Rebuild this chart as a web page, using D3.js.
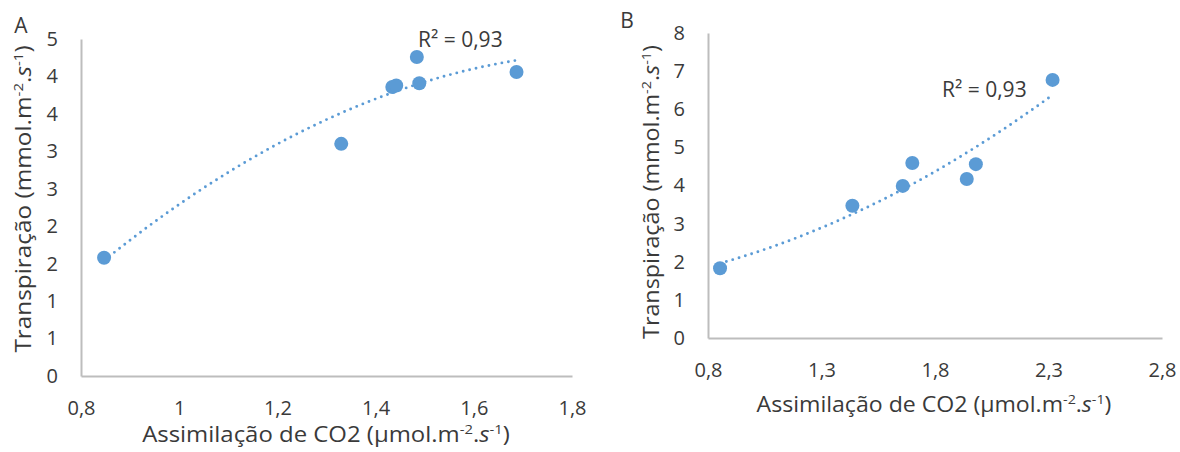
<!DOCTYPE html>
<html>
<head>
<meta charset="utf-8">
<script src="https://cdn.jsdelivr.net/npm/d3@7"></script>
<style>
  body { margin: 0; background: #fff; }
  svg { display: block; }
  text { font-family: "Open Sans", "Noto Sans", sans-serif; fill: #3a3a3a; }
</style>
</head>
<body>
<svg id="chart" width="1180" height="452"></svg>
<script>
// Panel A: CO2 assimilation vs transpiration
const assimA  = [0.847, 1.33, 1.434, 1.442, 1.484, 1.489, 1.687];
const transpA = [1.58, 3.10, 3.86, 3.88, 4.26, 3.91, 4.06];
// Panel B
const assimB  = [0.853, 1.436, 1.658, 1.70, 1.94, 1.98, 2.318];
const transpB = [1.83, 3.47, 3.99, 4.59, 4.17, 4.56, 6.77];

// Tick values and their printed labels
const xTicksA = [0.8, 1.0, 1.2, 1.4, 1.6, 1.8];
const xTickLabelsA = ["0,8", "1", "1,2", "1,4", "1,6", "1,8"];
const yTicksA = [0, 0.5, 1, 1.5, 2, 2.5, 3, 3.5, 4, 4.5];
const yTickLabelsA = ["0", "1", "1", "2", "2", "3", "3", "4", "4", "5"];
const xTicksB = [0.8, 1.3, 1.8, 2.3, 2.8];
const xTickLabelsB = ["0,8", "1,3", "1,8", "2,3", "2,8"];
const yTicksB = [0, 1, 2, 3, 4, 5, 6, 7, 8];
const yTickLabelsB = ["0", "1", "2", "3", "4", "5", "6", "7", "8"];

const panelNames = ["A", "B"];
const r2Labels = ["R² = 0,93", "R² = 0,93"];

const svg = d3.select("#chart");
const BLUE = "#5b9bd5";
const AXIS = "#bdbdbd";

// Least-squares quadratic fit y = a + b x + c x^2
function quadFit(xs, ys) {
  let s = [0, 0, 0, 0, 0], t = [0, 0, 0];
  xs.forEach((x, i) => {
    for (let k = 0; k <= 4; k++) s[k] += Math.pow(x, k);
    for (let k = 0; k <= 2; k++) t[k] += ys[i] * Math.pow(x, k);
  });
  const M = [[s[0], s[1], s[2], t[0]], [s[1], s[2], s[3], t[1]], [s[2], s[3], s[4], t[2]]];
  for (let i = 0; i < 3; i++) {
    for (let j = i + 1; j < 3; j++) {
      const f = M[j][i] / M[i][i];
      for (let k = i; k < 4; k++) M[j][k] -= f * M[i][k];
    }
  }
  const c = M[2][3] / M[2][2];
  const b = (M[1][3] - M[1][2] * c) / M[1][1];
  const a = (M[0][3] - M[0][1] * b - M[0][2] * c) / M[0][0];
  return x => a + b * x + c * x * x;
}

// "(…m⁻².s⁻¹)" unit suffix with raised exponents
function addUnits(text, prefix, mainSize) {
  const sup = Math.round(mainSize * 0.62);
  const up = -mainSize * 0.38;
  text.append("tspan").text(prefix);
  text.append("tspan").attr("font-size", sup).attr("dy", up).text("-2");
  text.append("tspan").attr("dy", -up).text(".");
  text.append("tspan").attr("font-style", "italic").text("s");
  text.append("tspan").attr("font-size", sup).attr("dy", up).text("-1");
  text.append("tspan").attr("dy", -up).text(")");
}

const panels = [
  { xs: assimA, ys: transpA, xTicks: xTicksA, xLabels: xTickLabelsA, yTicks: yTicksA, yLabels: yTickLabelsA,
    xDom: [0.8, 1.8], yDom: [0, 4.5], left: 81, right: 572, top: 39, bottom: 376,
    name: panelNames[0], nameXY: [21, 33], r2: r2Labels[0], r2XY: [418, 47],
    xTitleXY: [326, 442], xStretch: 1.14, yTitleXY: [31, 199], yStretch: 1.16 },
  { xs: assimB, ys: transpB, xTicks: xTicksB, xLabels: xTickLabelsB, yTicks: yTicksB, yLabels: yTickLabelsB,
    xDom: [0.8, 2.8], yDom: [0, 8], left: 708, right: 1162, top: 33, bottom: 338,
    name: panelNames[1], nameXY: [627, 28], r2: r2Labels[1], r2XY: [942, 97],
    xTitleXY: [934, 412], xStretch: 1.10, yTitleXY: [659, 192], yStretch: 1.11 }
];

const FS = 21;

panels.forEach(p => {
  const x = d3.scaleLinear().domain(p.xDom).range([p.left, p.right]);
  const y = d3.scaleLinear().domain(p.yDom).range([p.bottom, p.top]);
  const g = svg.append("g");

  // axes
  const xAxis = d3.axisBottom(x).tickValues(p.xTicks)
    .tickFormat((d, i) => p.xLabels[i]).tickSize(0).tickSizeOuter(0).tickPadding(25);
  const yAxis = d3.axisLeft(y).tickValues(p.yTicks)
    .tickFormat((d, i) => p.yLabels[i]).tickSize(0).tickSizeOuter(0).tickPadding(23);

  const gx = g.append("g").attr("transform", `translate(0,${p.bottom})`).call(xAxis);
  const gy = g.append("g").attr("transform", `translate(${p.left},0)`).call(yAxis);
  [gx, gy].forEach(a => {
    a.select(".domain").attr("stroke", AXIS).attr("stroke-width", 2);
    a.selectAll("text").attr("font-size", 20).attr("fill", "#404040")
      .style("font-family", '"Open Sans", sans-serif');
  });

  // trend line (2nd-order polynomial)
  const f = quadFit(p.xs, p.ys);
  const [xmin, xmax] = d3.extent(p.xs);
  const samples = d3.range(0, 61).map(i => xmin + (xmax - xmin) * i / 60);
  g.append("path")
    .datum(samples)
    .attr("fill", "none")
    .attr("stroke", BLUE)
    .attr("stroke-width", 2.9)
    .attr("stroke-linecap", "round")
    .attr("stroke-dasharray", "0,6.6")
    .attr("d", d3.line().x(d => x(d)).y(d => y(f(d))));

  // data points
  g.selectAll("circle").data(p.xs).join("circle")
    .attr("cx", d => x(d))
    .attr("cy", (d, i) => y(p.ys[i]))
    .attr("r", 7)
    .attr("fill", BLUE);

  // R² annotation
  g.append("text").attr("x", p.r2XY[0]).attr("y", p.r2XY[1])
    .attr("font-size", FS).text(p.r2);

  // panel letter
  g.append("text").attr("x", p.nameXY[0]).attr("y", p.nameXY[1])
    .attr("text-anchor", "middle").attr("font-size", FS).text(p.name);

  // x-axis title
  const xt = g.append("g").attr("transform", `translate(${p.xTitleXY[0]},${p.xTitleXY[1]})`)
    .append("text").attr("transform", `scale(${p.xStretch},1)`)
    .attr("text-anchor", "middle").attr("font-size", FS);
  xt.append("tspan").text("Assimilação de CO2 ");
  addUnits(xt, "(µmol.m", FS);

  // y-axis title
  const yt = g.append("g")
    .attr("transform", `translate(${p.yTitleXY[0]},${p.yTitleXY[1]}) rotate(-90)`)
    .append("text").attr("transform", `scale(${p.yStretch},1)`)
    .attr("text-anchor", "middle").attr("font-size", FS);
  yt.append("tspan").text("Transpiração ");
  addUnits(yt, "(mmol.m", FS);
});
</script>
</body>
</html>
